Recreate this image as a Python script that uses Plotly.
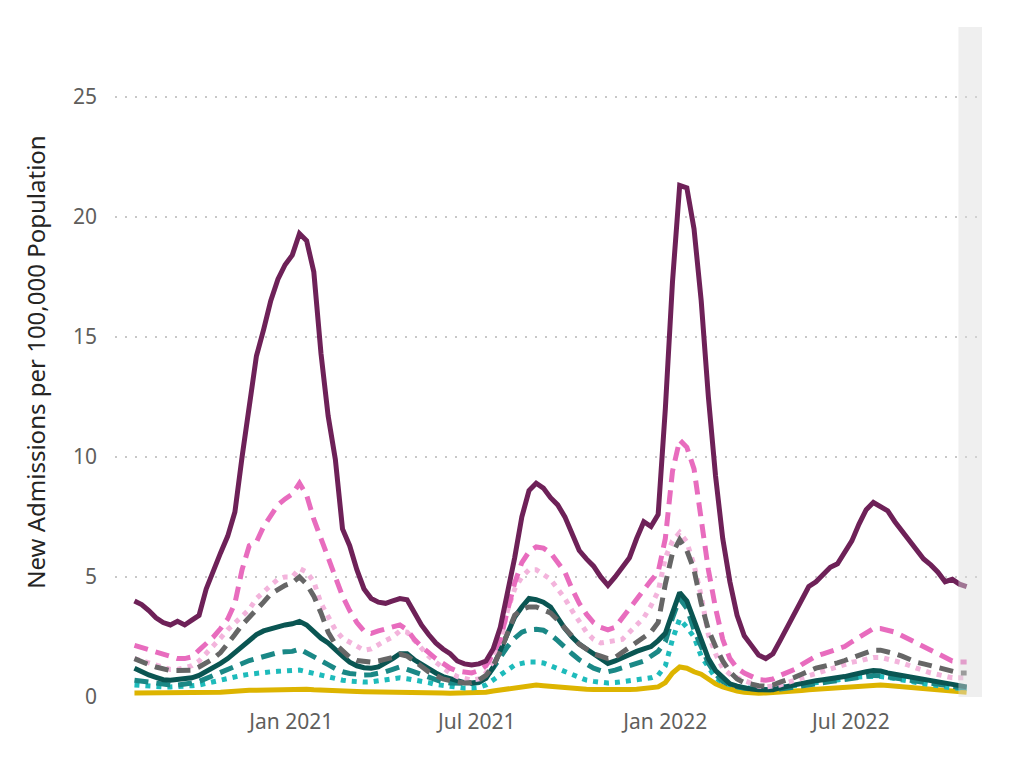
import pandas as pd
import plotly.graph_objects as go

# weekly dates
dates = pd.date_range("2020-08-01", periods=117, freq="7D")

age_70_plus = [
    4.0, 3.85, 3.6, 3.3, 3.1, 3.0, 3.15, 3.0, 3.2, 3.4,
    4.5, 5.3, 6.0, 6.7, 7.7, 10.0, 12.3, 14.2, 15.3, 16.5,
    17.4, 18.0, 18.4, 19.3, 19.0, 17.7, 14.3, 11.7, 9.9, 7.0,
    6.3, 5.3, 4.5, 4.1, 3.95, 3.9, 4.0, 4.1, 4.05, 3.5,
    3.0, 2.6, 2.25, 2.0, 1.8, 1.5, 1.38, 1.33, 1.38, 1.5,
    2.0, 2.9, 4.3, 5.8, 7.5, 8.6, 8.9, 8.7, 8.3, 8.0,
    7.5, 6.8, 6.1, 5.75, 5.45, 5.0, 4.65, 5.0, 5.4, 5.8,
    6.6, 7.3, 7.1, 7.6, 12.0, 17.3, 21.3, 21.2, 19.5, 16.5,
    12.5, 9.2, 6.6, 4.8, 3.4, 2.55, 2.15, 1.75, 1.6, 1.8,
    2.35, 2.9, 3.45, 4.0, 4.6, 4.8, 5.1, 5.4, 5.55, 6.0,
    6.5, 7.2, 7.8, 8.1, 7.95, 7.75, 7.3, 6.9, 6.5, 6.1,
    5.75, 5.5, 5.2, 4.8, 4.9, 4.7, 4.6,
]

age_60_69 = [
    2.15, 2.05, 1.95, 1.85, 1.75, 1.68, 1.6, 1.6, 1.67, 1.95,
    2.2, 2.5, 2.85, 3.25, 3.9, 5.3, 6.3, 6.45, 7.1, 7.6,
    8.0, 8.25, 8.45, 8.9, 8.4, 7.4, 6.6, 5.7, 4.9, 4.2,
    3.6, 3.1, 2.75, 2.65, 2.75, 2.85, 2.95, 3.0, 2.8, 2.4,
    2.1, 1.83, 1.6, 1.4, 1.2, 1.08, 1.02, 1.0, 1.1, 1.3,
    1.8, 2.4, 3.6, 4.75, 5.6, 6.05, 6.25, 6.2, 6.0, 5.6,
    5.2, 4.5, 3.9, 3.45, 3.1, 2.9, 2.8, 2.9, 3.3, 3.7,
    4.1, 4.5, 4.85, 5.2, 6.6, 9.4, 10.7, 10.4, 9.5, 7.4,
    5.3, 3.7, 2.4, 1.6, 1.2, 1.0, 0.85, 0.72, 0.7, 0.75,
    0.9, 1.0, 1.15, 1.35, 1.55, 1.7, 1.8, 1.9, 1.97, 2.1,
    2.3, 2.5, 2.7, 2.85, 2.85, 2.8, 2.7, 2.55, 2.4, 2.25,
    2.15, 2.0, 1.85, 1.7, 1.5, 1.46, 1.46,
]

all_ages = [
    1.6, 1.5, 1.4, 1.3, 1.2, 1.15, 1.15, 1.2, 1.3, 1.5,
    1.8, 2.1, 2.45, 2.8, 3.1, 3.4, 3.65, 4.1, 4.4, 4.65,
    4.9, 5.0, 5.0, 5.35, 5.2, 4.8, 3.9, 3.3, 2.8, 2.45,
    2.3, 2.1, 1.95, 2.0, 2.2, 2.35, 2.5, 2.75, 2.7, 2.35,
    2.0, 1.7, 1.45, 1.2, 1.0, 0.85, 0.75, 0.7, 0.75, 1.0,
    1.5, 2.3, 3.6, 4.5, 5.0, 5.3, 5.3, 5.1, 4.9, 4.5,
    4.1, 3.6, 3.1, 2.7, 2.4, 2.25, 2.3, 2.35, 2.4, 2.7,
    3.0, 3.3, 3.8, 4.4, 5.8, 6.5, 6.85, 6.45, 5.5, 4.2,
    2.6, 1.8, 1.2, 0.95, 0.8, 0.7, 0.55, 0.45, 0.42, 0.45,
    0.5, 0.6, 0.7, 0.8, 0.9, 1.0, 1.1, 1.2, 1.28, 1.35,
    1.45, 1.5, 1.58, 1.65, 1.65, 1.6, 1.5, 1.42, 1.33, 1.2,
    1.1, 1.0, 0.92, 0.85, 0.8, 0.8, 0.8,
]

age_50_59 = [
    1.6, 1.45, 1.35, 1.25, 1.18, 1.1, 1.1, 1.1, 1.12, 1.25,
    1.4, 1.6, 1.85, 2.2, 2.6, 3.0, 3.3, 3.65, 3.95, 4.3,
    4.5, 4.65, 4.75, 5.0, 4.7, 4.2, 3.5, 2.7, 2.2, 1.9,
    1.65, 1.52, 1.48, 1.45, 1.5, 1.55, 1.65, 1.78, 1.7, 1.5,
    1.25, 1.05, 0.9, 0.75, 0.68, 0.62, 0.58, 0.6, 0.7, 0.9,
    1.3, 1.9, 2.6, 3.4, 3.65, 3.75, 3.75, 3.65, 3.5, 3.2,
    2.85, 2.5, 2.2, 2.0, 1.8, 1.7, 1.6, 1.65, 1.85, 2.05,
    2.25, 2.45, 2.7, 3.1, 4.7, 6.0, 6.55, 6.1, 5.3, 3.9,
    2.8, 2.1, 1.5, 1.05, 0.75, 0.6, 0.52, 0.47, 0.45, 0.5,
    0.62, 0.7, 0.82, 0.95, 1.1, 1.2, 1.27, 1.33, 1.42, 1.52,
    1.62, 1.75, 1.85, 1.95, 1.95, 1.9, 1.8, 1.7, 1.55, 1.45,
    1.38, 1.3, 1.22, 1.15, 1.05, 1.0, 1.0,
]

age_40_49 = [
    1.2, 1.05, 0.92, 0.82, 0.72, 0.7, 0.72, 0.75, 0.8, 0.9,
    1.05, 1.25, 1.4, 1.6, 1.85, 2.1, 2.4, 2.6, 2.75, 2.85,
    2.95, 3.0, 3.05, 3.15, 3.0, 2.72, 2.45, 2.25, 1.95, 1.7,
    1.45, 1.3, 1.22, 1.2, 1.25, 1.4, 1.6, 1.8, 1.8, 1.55,
    1.35, 1.15, 1.0, 0.85, 0.75, 0.68, 0.6, 0.58, 0.62, 0.78,
    1.25, 1.95, 2.7, 3.33, 3.75, 4.1, 4.05, 3.95, 3.75, 3.3,
    2.85, 2.5, 2.2, 2.0, 1.8, 1.55, 1.4, 1.5, 1.65, 1.75,
    1.9, 2.0, 2.1, 2.35, 2.65, 3.5, 4.35, 4.0, 3.2, 2.35,
    1.6, 1.1, 0.8, 0.55, 0.45, 0.38, 0.33, 0.3, 0.3, 0.3,
    0.38, 0.45, 0.52, 0.58, 0.62, 0.68, 0.72, 0.75, 0.8, 0.85,
    0.92, 1.0, 1.05, 1.1, 1.08, 1.0, 0.95, 0.88, 0.83, 0.78,
    0.72, 0.67, 0.62, 0.57, 0.52, 0.45, 0.42,
]

age_30_39 = [
    0.7, 0.65, 0.6, 0.56, 0.52, 0.5, 0.5, 0.52, 0.58, 0.65,
    0.78, 0.92, 1.02, 1.15, 1.28, 1.4, 1.52, 1.6, 1.7, 1.78,
    1.85, 1.88, 1.9, 2.0, 1.85, 1.7, 1.5, 1.35, 1.18, 1.05,
    0.98, 0.93, 0.92, 0.93, 0.98, 1.05, 1.15, 1.25, 1.15, 1.05,
    0.92, 0.8, 0.7, 0.62, 0.58, 0.56, 0.55, 0.56, 0.6, 0.8,
    1.2, 1.7, 2.1, 2.45, 2.7, 2.8, 2.82, 2.78, 2.6, 2.35,
    2.05, 1.8, 1.55, 1.35, 1.2, 1.1, 1.05, 1.12, 1.2, 1.3,
    1.4, 1.5, 1.7, 1.9, 2.3, 3.3, 4.1, 3.7, 2.8, 2.1,
    1.4, 0.95, 0.65, 0.5, 0.42, 0.36, 0.33, 0.31, 0.3, 0.3,
    0.33, 0.38, 0.43, 0.48, 0.52, 0.56, 0.6, 0.64, 0.68, 0.72,
    0.78, 0.82, 0.86, 0.9, 0.88, 0.85, 0.8, 0.75, 0.7, 0.65,
    0.6, 0.56, 0.52, 0.48, 0.44, 0.4, 0.38,
]

age_18_29 = [
    0.5, 0.47, 0.45, 0.43, 0.42, 0.42, 0.42, 0.44, 0.47, 0.5,
    0.55, 0.62, 0.7, 0.77, 0.85, 0.9, 0.95, 1.0, 1.03, 1.05,
    1.07, 1.1, 1.1, 1.12, 1.05, 0.97, 0.9, 0.82, 0.75, 0.7,
    0.66, 0.63, 0.62, 0.63, 0.66, 0.7, 0.75, 0.8, 0.76, 0.72,
    0.68, 0.6, 0.52, 0.48, 0.43, 0.4, 0.37, 0.37, 0.4, 0.5,
    0.7, 0.95, 1.15, 1.33, 1.4, 1.46, 1.46, 1.42, 1.3, 1.18,
    1.05, 0.92, 0.8, 0.7, 0.65, 0.6, 0.58, 0.6, 0.63, 0.66,
    0.7, 0.72, 0.8, 0.9, 1.3, 2.4, 3.25, 2.9, 2.5, 1.7,
    1.2, 0.8, 0.6, 0.5, 0.42, 0.38, 0.36, 0.35, 0.35, 0.36,
    0.4, 0.45, 0.5, 0.55, 0.58, 0.62, 0.66, 0.7, 0.74, 0.77,
    0.8, 0.83, 0.85, 0.86, 0.85, 0.82, 0.78, 0.72, 0.66, 0.6,
    0.55, 0.5, 0.46, 0.42, 0.38, 0.36, 0.35,
]

age_0_17 = [
    0.17, 0.17, 0.16, 0.16, 0.16, 0.16, 0.16, 0.17, 0.17, 0.18,
    0.18, 0.19, 0.2, 0.22, 0.25, 0.27, 0.28, 0.28, 0.29, 0.3,
    0.3, 0.31, 0.32, 0.33, 0.32, 0.3, 0.28, 0.27, 0.26, 0.25,
    0.24, 0.23, 0.22, 0.22, 0.22, 0.22, 0.22, 0.22, 0.21, 0.2,
    0.19, 0.18, 0.17, 0.17, 0.16, 0.16, 0.16, 0.16, 0.17, 0.2,
    0.25, 0.3, 0.35, 0.4, 0.45, 0.5, 0.5, 0.47, 0.44, 0.4,
    0.37, 0.35, 0.33, 0.32, 0.31, 0.3, 0.3, 0.3, 0.3, 0.31,
    0.32, 0.34, 0.36, 0.42, 0.6, 1.0, 1.25, 1.2, 1.05, 0.95,
    0.75, 0.55, 0.42, 0.32, 0.25, 0.2, 0.17, 0.16, 0.17, 0.18,
    0.2, 0.22, 0.25, 0.27, 0.3, 0.32, 0.34, 0.36, 0.38, 0.4,
    0.42, 0.45, 0.47, 0.5, 0.5, 0.48, 0.45, 0.42, 0.4, 0.38,
    0.36, 0.33, 0.3, 0.28, 0.25, 0.22, 0.2,
]

tick_dates = ["2021-01-01", "2021-07-01", "2022-01-01", "2022-07-01"]
tick_labels = ["Jan 2021", "Jul 2021", "Jan 2022", "Jul 2022"]
y_ticks = [0, 5, 10, 15, 20, 25]

series = [
    ("0-17 Years", age_0_17, "#DDB400", "solid"),
    ("18-29 Years", age_18_29, "#1EBBBB", "5px,6px"),
    ("30-39 Years", age_30_39, "#1A8886", "14px,8px"),
    ("40-49 Years", age_40_49, "#0A5552", "solid"),
    ("All Ages", all_ages, "#F3B4DC", "5px,6px"),
    ("50-59 Years", age_50_59, "#666666", "14px,8px"),
    ("60-69 Years", age_60_69, "#E86CBE", "14px,8px"),
    ("70+ Years", age_70_plus, "#6E2158", "solid"),
]

fig = go.Figure()
for name, vals, color, dash in series:
    fig.add_trace(go.Scatter(
        x=dates, y=vals, name=name, mode="lines",
        line=dict(color=color, width=5, dash=dash),
        showlegend=False,
    ))

fig.add_shape(
    type="rect", xref="x", yref="paper",
    x0="2022-10-14", x1="2022-11-06", y0=0, y1=1,
    fillcolor="rgba(220,220,220,0.45)", line=dict(width=0), layer="above",
)

fig.update_layout(
    width=1024, height=759,
    margin=dict(l=107, r=50, t=19, b=70),
    paper_bgcolor="white", plot_bgcolor="white",
    font=dict(family="Segoe UI, Noto Sans, Open Sans, sans-serif"),
    xaxis=dict(
        range=["2020-07-13", "2022-11-06"],
        tickvals=tick_dates, ticktext=tick_labels,
        showgrid=False, zeroline=False, showline=False, ticks="",
        tickfont=dict(size=21, color="#605E5C"),
        ticklabelstandoff=10,
    ),
    yaxis=dict(
        range=[0, 27.9],
        tickvals=y_ticks,
        showgrid=True, gridcolor="#C8C8C8", gridwidth=1.5, griddash="2px,8px",
        zeroline=False, showline=False, ticks="",
        tickfont=dict(size=21, color="#605E5C"),
        ticklabelstandoff=17,
        title=dict(text="New Admissions per 100,000 Population",
                   font=dict(size=24, color="#252423"), standoff=20),
    ),
)

fig.write_html("out.html")
